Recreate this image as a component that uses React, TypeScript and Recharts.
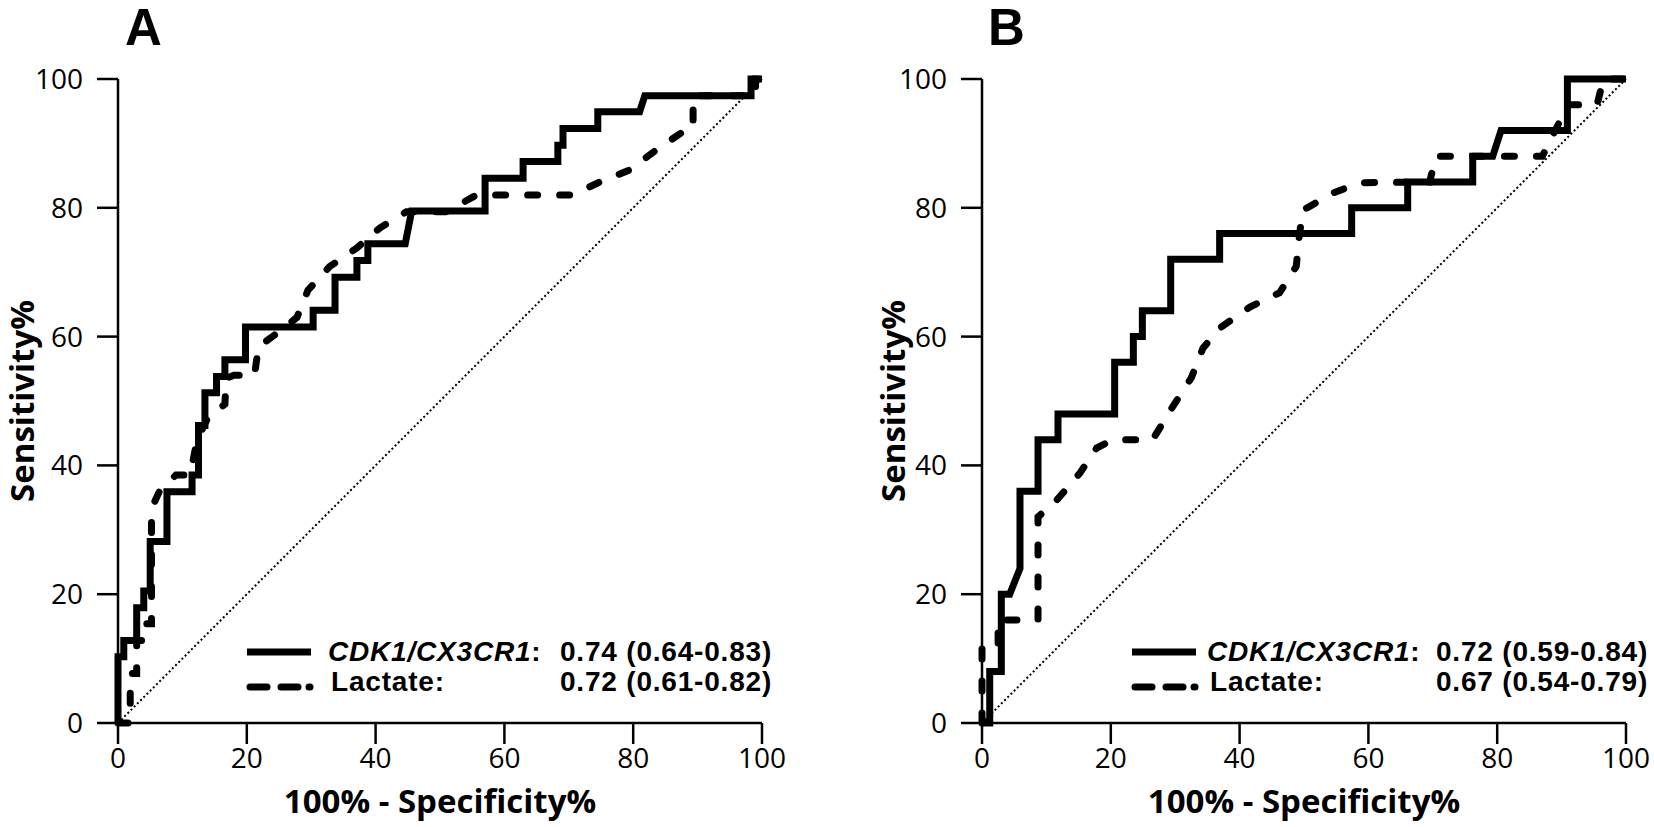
import { LineChart, Line, XAxis, YAxis, Label } from 'recharts';

// axis ticks shared by both panels
const axisTicks = [0, 20, 40, 60, 80, 100];
const diagX = [0, 100];
const diagY = [0, 100];

// Panel A - CDK1/CX3CR1 (100% - specificity, sensitivity)
const aCdkX = [0, 0, 0.9, 0.9, 2.9, 2.9, 4, 4, 5, 5, 7.6, 7.6, 11.5, 11.5, 12.5, 12.5, 13.5, 13.5, 15.3, 15.3, 16.6, 16.6, 19.8, 19.8, 30.3, 30.3, 33.7, 33.7, 37.1, 37.1, 38.8, 38.8, 44.6, 45.6, 57, 57, 62.9, 62.9, 68.3, 68.3, 69.1, 69.1, 74.5, 74.5, 81, 81.8, 98.3, 98.3, 100];
const aCdkY = [0, 10.3, 10.3, 12.8, 12.8, 17.9, 17.9, 20.5, 20.5, 28.2, 28.2, 35.9, 35.9, 38.5, 38.5, 46.2, 46.2, 51.3, 51.3, 53.8, 53.8, 56.4, 56.4, 61.5, 61.5, 64.1, 64.1, 69.2, 69.2, 71.8, 71.8, 74.4, 74.4, 79.5, 79.5, 84.6, 84.6, 87.2, 87.2, 89.7, 89.7, 92.3, 92.3, 94.9, 94.9, 97.4, 97.4, 100, 100];

// Panel A - Lactate
const aLacX = [0, 1.9, 1.9, 2.9, 2.9, 4, 4, 5.2, 5.2, 6.4, 7.6, 9, 11.2, 12.3, 14, 16.6, 16.8, 18, 21.2, 21.8, 26, 27.8, 29.5, 32.9, 37, 40.7, 44.8, 51, 55.7, 70.6, 74.8, 79.5, 83.6, 87.7, 89.3, 89.3, 99, 99, 100];
const aLacY = [0, 0, 7.7, 7.7, 12.8, 12.8, 15.4, 15.4, 33.3, 35.9, 37.2, 38.5, 38.5, 44, 47.5, 49.5, 53.5, 54, 54, 58.4, 61.5, 63, 67.2, 70.9, 73.7, 76.9, 79.4, 79.4, 82, 82, 84, 85.9, 89, 91.8, 92.3, 97.4, 97.4, 100, 100];

// Panel B - CDK1/CX3CR1
const bCdkX = [0, 1.2, 1.2, 3, 3, 4.3, 5.9, 5.9, 8.7, 8.7, 11.8, 11.8, 20.6, 20.6, 23.5, 23.5, 24.9, 24.9, 29.3, 29.3, 36.9, 36.9, 57.4, 57.4, 66.1, 66.1, 76.2, 76.2, 79.3, 80.6, 90.9, 90.9, 100];
const bCdkY = [0, 0, 8, 8, 20, 20, 24, 36, 36, 44, 44, 48, 48, 56, 56, 60, 60, 64, 64, 72, 72, 76, 76, 80, 80, 84, 84, 88, 88, 92, 92, 100, 100];

// Panel B - Lactate
const bLacX = [0, 0, 2.5, 2.5, 8.7, 8.7, 11.6, 15.2, 17.8, 20.4, 26.5, 29.6, 32.5, 34.3, 36.9, 41.6, 46.2, 48.8, 49.2, 49.8, 50.5, 54.5, 58.7, 69.5, 70.5, 87, 89, 91, 95.5, 96.5, 100];
const bLacY = [0, 12, 12, 16, 16, 32, 34.6, 38.8, 42.7, 44, 44, 49.1, 53.6, 58.2, 61.3, 64.6, 66.8, 70.9, 75, 79.7, 80, 82.3, 83.9, 84, 88, 88, 92, 96, 96, 100, 100];

const legendNames = ['CDK1/CX3CR1', 'Lactate:'];
const aucA = ['0.74 (0.64-0.83)', '0.72 (0.61-0.82)'];
const aucB = ['0.72 (0.59-0.84)', '0.67 (0.54-0.79)'];

const toPts = (xs: number[], ys: number[]) => xs.map((x, i) => ({ x, y: ys[i] }));

const LEGEND_FONT = '"Liberation Sans", Arial, sans-serif';
const AXIS_FONT = '"Open Sans", sans-serif';

interface PanelProps {
  letter: string;
  left: number;
  width: number;
  yAxisWidth: number;
  rightMargin: number;
  cdk: { x: number; y: number }[];
  lac: { x: number; y: number }[];
  auc: string[];
  titleX: number;
  letterX: number;
  lineX: number;
  textX: number;
  valueX: number;
}

function RocPanel(p: PanelProps) {
  const lineEnd = p.lineX + 64;
  const legendText = { fontFamily: LEGEND_FONT, fontWeight: 'bold', fontSize: 28, letterSpacing: 0.8, fill: '#000' };
  return (
    <div style={{ position: 'absolute', left: p.left, top: 0 }}>
      <LineChart width={p.width} height={827} margin={{ top: 79, right: p.rightMargin, bottom: 0, left: 0 }}>
        <XAxis
          type="number"
          dataKey="x"
          domain={[0, 100]}
          ticks={axisTicks}
          interval={0}
          height={104}
          tickSize={21}
          tickMargin={4}
          axisLine={{ stroke: '#000', strokeWidth: 2.5 }}
          tickLine={{ stroke: '#000', strokeWidth: 2.5 }}
          tick={{ fill: '#000', fontSize: 28, fontFamily: AXIS_FONT }}
        >
          <Label
            content={() => (
              <text x={p.yAxisWidth + 322} y={813} textAnchor="middle" fontFamily={AXIS_FONT} fontWeight="bold" fontSize={33} fill="#000">
                100% - Specificity%
              </text>
            )}
          />
        </XAxis>
        <YAxis
          type="number"
          domain={[0, 100]}
          ticks={axisTicks}
          interval={0}
          width={p.yAxisWidth}
          tickSize={21}
          tickMargin={14}
          axisLine={{ stroke: '#000', strokeWidth: 2.5 }}
          tickLine={{ stroke: '#000', strokeWidth: 2.5 }}
          tick={{ fill: '#000', fontSize: 28, fontFamily: AXIS_FONT }}
        >
          <Label
            content={() => (
              <text
                x={p.titleX}
                y={401}
                transform={`rotate(-90 ${p.titleX} 401)`}
                textAnchor="middle"
                dominantBaseline="central"
                fontFamily={AXIS_FONT}
                fontWeight="bold"
                fontSize={33}
                fill="#000"
              >
                Sensitivity%
              </text>
            )}
          />
        </YAxis>
        <Line
          data={toPts(diagX, diagY)}
          dataKey="y"
          type="linear"
          stroke="#000"
          strokeWidth={2}
          strokeDasharray="2 2.5"
          dot={false}
          activeDot={false}
          isAnimationActive={false}
        />
        <Line
          data={p.lac}
          dataKey="y"
          type="linear"
          stroke="#000"
          strokeWidth={7}
          strokeDasharray="10 22"
          strokeLinecap="round"
          dot={false}
          activeDot={false}
          isAnimationActive={false}
        />
        <Line
          data={p.cdk}
          dataKey="y"
          type="linear"
          stroke="#000"
          strokeWidth={7}
          dot={false}
          activeDot={false}
          isAnimationActive={false}
        />
        <g>
          <text x={p.letterX} y={45} fontFamily={LEGEND_FONT} fontWeight="bold" fontSize={51} fill="#000">
            {p.letter}
          </text>
          <line x1={p.lineX} y1={652} x2={lineEnd} y2={652} stroke="#000" strokeWidth={7} />
          <line x1={p.lineX + 3} y1={687} x2={p.lineX + 20} y2={687} stroke="#000" strokeWidth={7} strokeLinecap="round" />
          <line x1={p.lineX + 34} y1={687} x2={p.lineX + 51} y2={687} stroke="#000" strokeWidth={7} strokeLinecap="round" />
          <line x1={p.lineX + 62} y1={687} x2={p.lineX + 63} y2={687} stroke="#000" strokeWidth={7} strokeLinecap="round" />
          <text x={p.textX} y={661} {...legendText}>
            <tspan fontStyle="italic">{legendNames[0]}</tspan>
            <tspan>:</tspan>
          </text>
          <text x={p.valueX} y={661} {...legendText}>
            {p.auc[0]}
          </text>
          <text x={p.textX + 3} y={691} {...legendText}>
            {legendNames[1]}
          </text>
          <text x={p.valueX} y={691} {...legendText}>
            {p.auc[1]}
          </text>
        </g>
      </LineChart>
    </div>
  );
}

export default function App() {
  return (
    <div style={{ position: 'absolute', left: 0, top: 0, width: 1654, height: 827, background: '#fff' }}>
      <RocPanel
        letter="A"
        left={0}
        width={800}
        yAxisWidth={118}
        rightMargin={38}
        cdk={toPts(aCdkX, aCdkY)}
        lac={toPts(aLacX, aLacY)}
        auc={aucA}
        titleX={21}
        letterX={125}
        lineX={247}
        textX={328}
        valueX={560}
      />
      <RocPanel
        letter="B"
        left={830}
        width={824}
        yAxisWidth={152}
        rightMargin={28}
        cdk={toPts(bCdkX, bCdkY)}
        lac={toPts(bLacX, bLacY)}
        auc={aucB}
        titleX={62}
        letterX={158}
        lineX={302}
        textX={377}
        valueX={606}
      />
    </div>
  );
}
